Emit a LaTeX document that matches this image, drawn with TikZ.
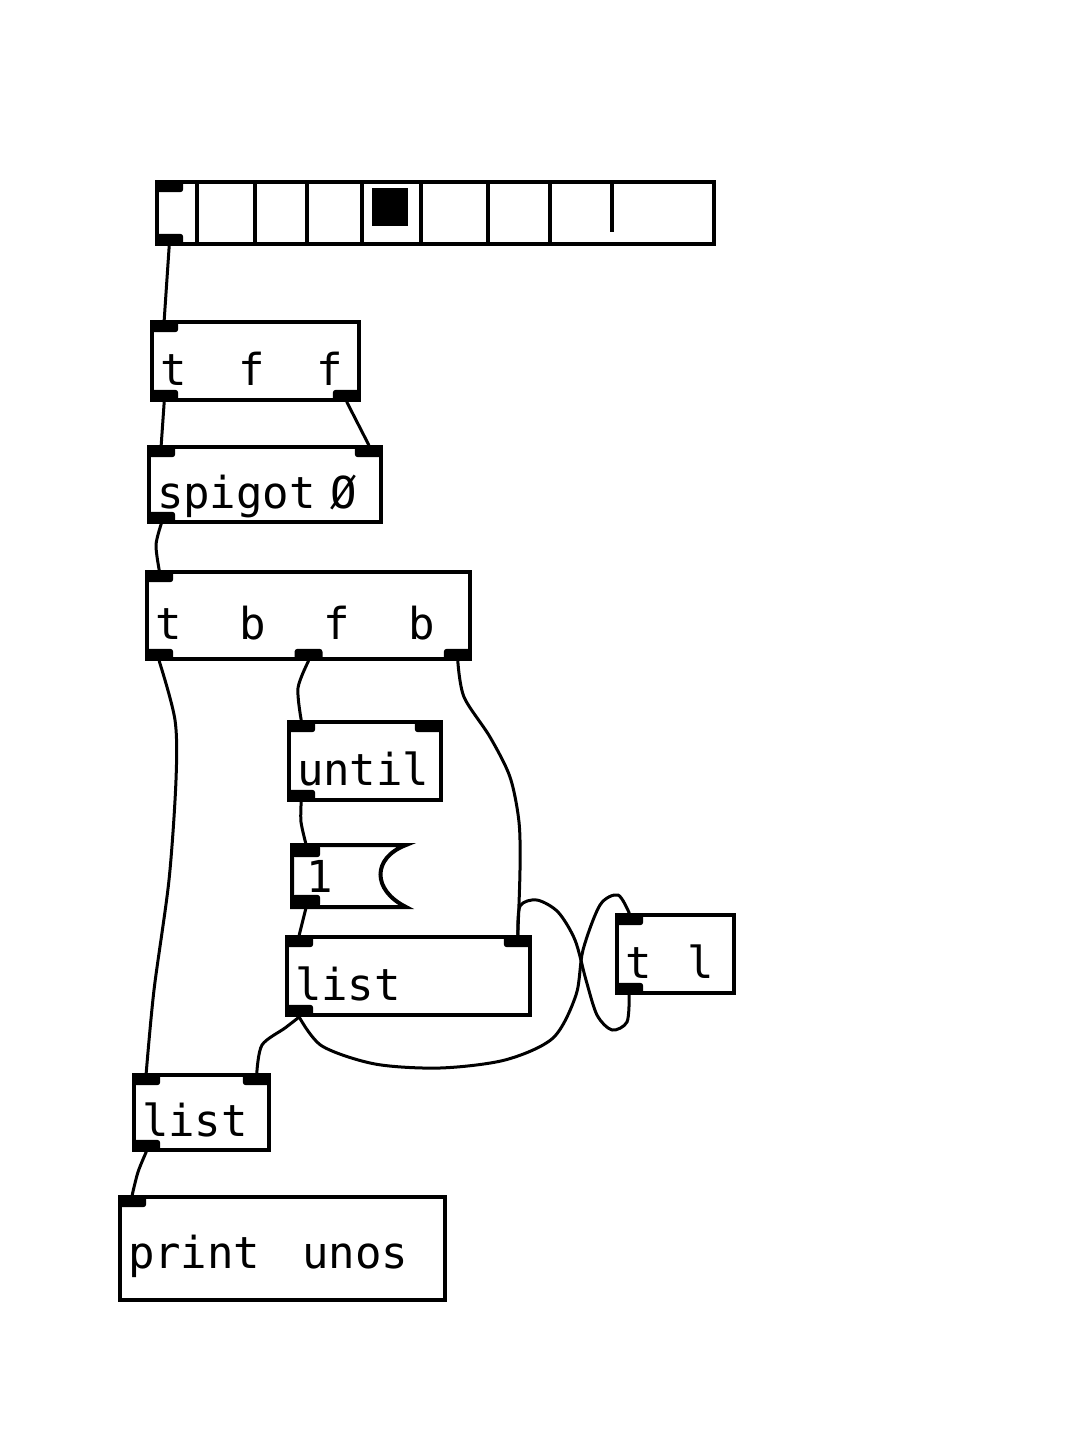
\documentclass[tikz,border=0pt]{standalone}
\usepackage{fontspec}
\setmonofont{DejaVu Sans Mono}
\usetikzlibrary{positioning}
\newcommand{\pdfont}{\ttfamily\fontsize{44}{50}\selectfont}
\tikzset{obj/.style 2 args={draw, line width=4pt, anchor=north west, text width=#1,
                            minimum height=#2, align=left, inner xsep=8pt, inner ysep=0pt,
                            text height=48pt, text depth=0pt, font=\pdfont}}
\tikzset{wide/.style={execute at begin node={\spaceskip=#1\relax}}}
\tikzset{port/.style={fill, rounded corners=3pt, minimum width=28pt, minimum height=12pt, inner sep=0pt}}
\tikzset{wire/.style={line width=3pt, line cap=round, line join=round}}

\begin{document}
\begin{tikzpicture}[x=1pt, y=-1pt]
			\useasboundingbox (0,0) rectangle (1086,1433);
			\node[draw, line width=4pt, anchor=north west, minimum width=557pt, minimum height=62pt, inner sep=0pt] (radio) at (155,180) {};
			\foreach \x/\b in {197/242, 255/242, 307/242, 362/242, 421/242, 488/242, 550/242, 612/232}
				\draw[line width=4pt] (\x,180) -- (\x,\b);
			\fill (372,188) rectangle (408,226);
			\node[obj={191pt}{78pt}, wide=52pt] (tff) at (150,320) {t f f};
			\node[obj={216pt}{75pt}] (spigot) at (147,445) {spigot Ø};
			\node[obj={307pt}{87pt}, wide=58pt] (tbfb) at (145,570) {t b f b};
			\node[obj={136pt}{78pt}] (until) at (287,720) {until};
			\node[obj={86pt}{58pt}, draw=none, text height=32pt, inner xsep=12pt] (msg) at (292,845) {1};
			\node[obj={227pt}{78pt}] (list1) at (285,935) {list};
			\node[obj={101pt}{78pt}, wide=36pt] (tl) at (615,913) {t l};
			\node[obj={119pt}{75pt}] (list2) at (132,1073) {list};
			\node[obj={309pt}{103pt}, wide=42pt, text height=40pt] (print) at (118,1195) {print unos};
			\draw[line width=4pt] (msg.north west) -- (msg.north east)
				.. controls (372,858) and (372,890) .. (msg.south east) -- (msg.south west) -- cycle;
			\node[port, anchor=north west] (radio-in0) at (radio.north west) {};
			\node[port, anchor=south west] (radio-out0) at (radio.south west) {};
			\node[port, anchor=north west] (tff-in0) at (tff.north west) {};
			\node[port, anchor=south west] (tff-out0) at (tff.south west) {};
			\node[port, anchor=south east] (tff-out1) at (tff.south east) {};
			\node[port, anchor=north west] (spigot-in0) at (spigot.north west) {};
			\node[port, anchor=north east] (spigot-in1) at (spigot.north east) {};
			\node[port, anchor=south west] (spigot-out0) at (spigot.south west) {};
			\node[port, anchor=north west] (tbfb-in0) at (tbfb.north west) {};
			\node[port, anchor=south west] (tbfb-out0) at (tbfb.south west) {};
			\node[port, anchor=south] (tbfb-out1) at (tbfb.south) {};
			\node[port, anchor=south east] (tbfb-out2) at (tbfb.south east) {};
			\node[port, anchor=north west] (until-in0) at (until.north west) {};
			\node[port, anchor=north east] (until-in1) at (until.north east) {};
			\node[port, anchor=south west] (until-out0) at (until.south west) {};
			\node[port, anchor=north west] (msg-in0) at (msg.north west) {};
			\node[port, anchor=south west] (msg-out0) at (msg.south west) {};
			\node[port, anchor=north west] (list1-in0) at (list1.north west) {};
			\node[port, anchor=north east] (list1-in1) at (list1.north east) {};
			\node[port, anchor=south west] (list1-out0) at (list1.south west) {};
			\node[port, anchor=north west] (tl-in0) at (tl.north west) {};
			\node[port, anchor=south west] (tl-out0) at (tl.south west) {};
			\node[port, anchor=north west] (list2-in0) at (list2.north west) {};
			\node[port, anchor=north east] (list2-in1) at (list2.north east) {};
			\node[port, anchor=south west] (list2-out0) at (list2.south west) {};
			\node[port, anchor=north west] (print-in0) at (print.north west) {};
			\draw[wire] (radio-out0.south) -- (tff-in0.north);
			\draw[wire] (tff-out0.south) -- (spigot-in0.north);
			\draw[wire] (tff-out1.south) -- (spigot-in1.north);
			\draw[wire] plot[smooth] coordinates {(spigot-out0.south) (156,545) (tbfb-in0.north)};
			\draw[wire] plot[smooth] coordinates {(tbfb-out0.south) (175,720) (176,780) (169,880) (154,990) (list2-in0.north)};
			\draw[wire] plot[smooth] coordinates {(tbfb-out1.south) (298,688) (until-in0.north)};
			\draw[wire] plot[smooth] coordinates {(tbfb-out2.south) (464,697) (490,737) (510,777) (519,822) (520,870) (list1-in1.north)};
			\draw[wire] plot[smooth] coordinates {(until-out0.south) (301,822) (msg-in0.north)};
			\draw[wire] plot[smooth] coordinates {(msg-out0.south) (list1-in0.north)};
			\draw[wire] plot[smooth] coordinates {(list1-out0.south) (322,1046) (375,1064) (440,1068) (505,1060)
				(553,1038) (576,995) (583,950) (600,905) (618,895) (tl-in0.north)};
			\draw[wire] plot[smooth] coordinates {(tl-out0.south) (627,1022) (612,1030) (597,1015) (586,980)
				(575,940) (558,912) (537,900) (520,906) (list1-in1.north)};
			\draw[wire] plot[smooth] coordinates {(list1-out0.south) (285,1028) (262,1045) (list2-in1.north)};
			\draw[wire] plot[smooth] coordinates {(list2-out0.south) (138,1172) (print-in0.north)};
		\end{tikzpicture}
\end{document}
